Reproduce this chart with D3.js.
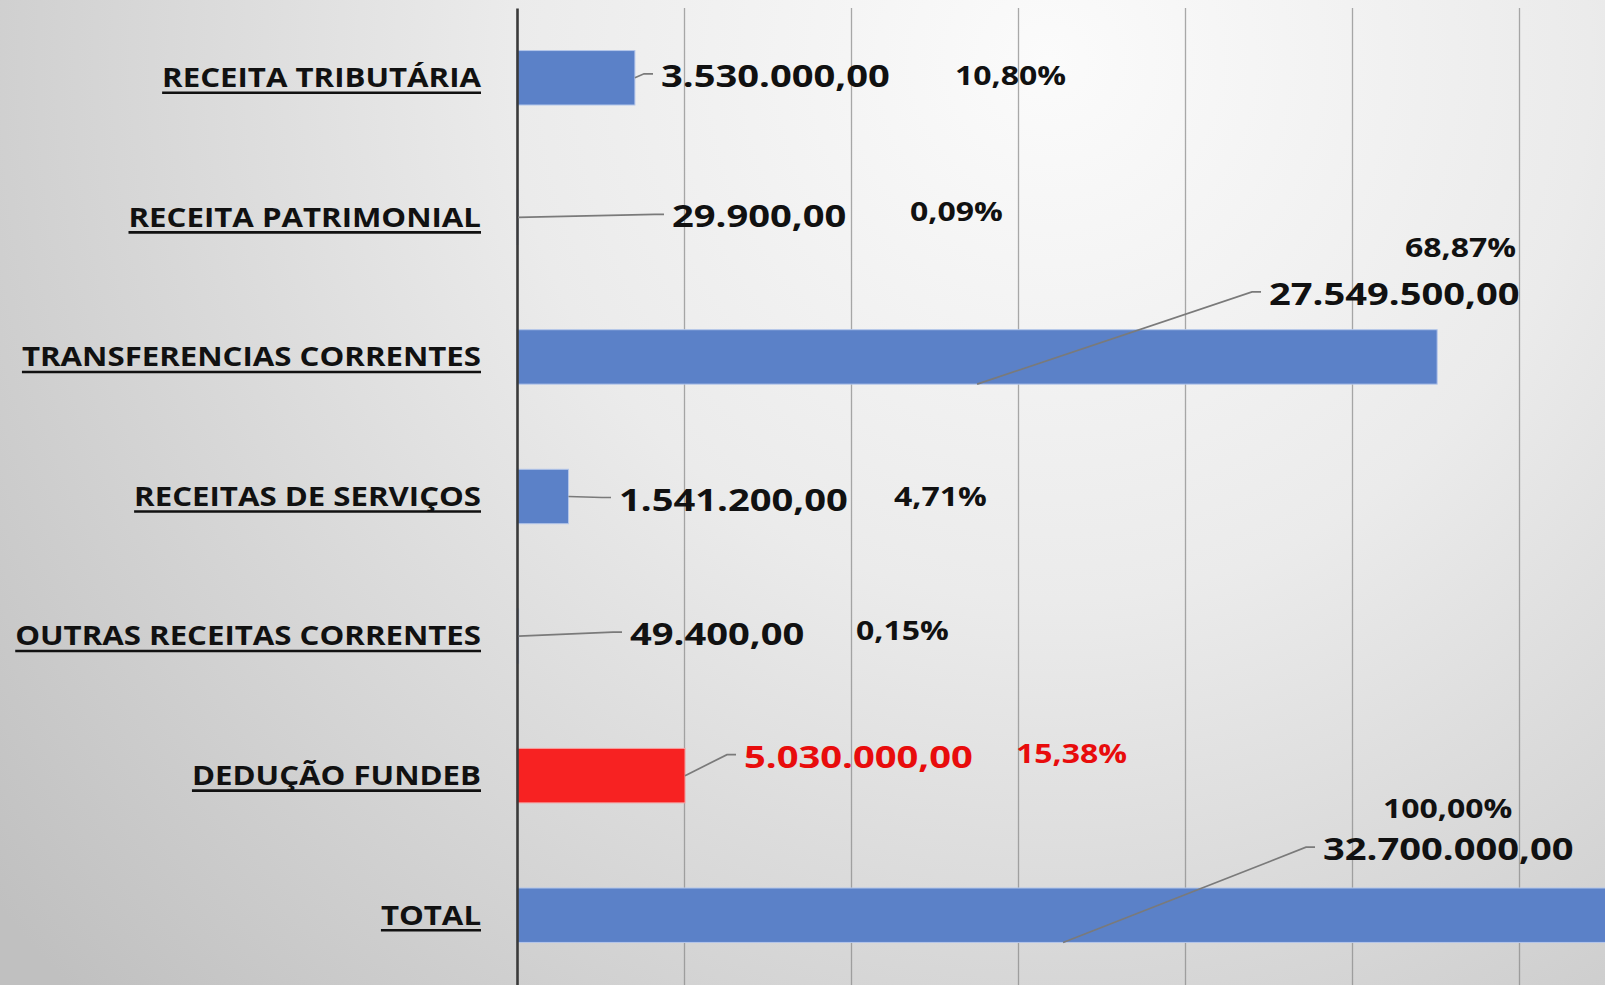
<!DOCTYPE html>
<html>
<head>
<meta charset="utf-8">
<script src="https://cdn.jsdelivr.net/npm/d3@7"></script>
<style>
  body { margin: 0; overflow: hidden; }
  text { font-family: 'Open Sans', 'Noto Sans', sans-serif; font-weight: 700; }
</style>
</head>
<body>
<script>
const categorias = ['RECEITA TRIBUTÁRIA', 'RECEITA PATRIMONIAL', 'TRANSFERENCIAS CORRENTES', 'RECEITAS DE SERVIÇOS', 'OUTRAS RECEITAS CORRENTES', 'DEDUÇÃO FUNDEB', 'TOTAL'];
const valores = [3530000, 29900, 27549500, 1541200, 49400, 5030000, 32700000];
const percentuais = ['10,80%', '0,09%', '68,87%', '4,71%', '0,15%', '15,38%', '100,00%'];
const deducao = [false, false, false, false, false, true, false];
const ticksX = [5000000, 10000000, 15000000, 20000000, 25000000, 30000000, 35000000];

// onde cada rotulo foi arrastado no grafico original (px)
const posRotulos = [
  {vx: 661, vy: 9, px: 955, py: 7, ey: -4, ancora: 'fim'},
  {vx: 672, vy: 10, px: 910, py: 4, ey: -3, ancora: 'fim'},
  {vx: 1269, vy: -52, px: 1405, py: -100, ey: -65, ancora: 'baixo'},
  {vx: 619, vy: 14, px: 894, py: 9, ey: 1, ancora: 'fim'},
  {vx: 630, vy: 9, px: 856, py: 4, ey: -4, ancora: 'fim'},
  {vx: 744, vy: -8, px: 1016, py: -13, ey: -21, ancora: 'fim'},
  {vx: 1323, vy: -55, px: 1383, py: -97, ey: -68, ancora: 'baixo'}
];

const width = 1605;
const height = 985;
const margin = {top: 8, left: 517};
const esticar = 1.23;
const esticarCat = 1.2;

const br = d3.formatLocale({decimal: ',', thousands: '.', grouping: [3], currency: ['', '']});
const formato = br.format(',.2f');

const dados = categorias.map((c, i) => ({
  cat: c,
  valor: valores[i],
  pct: percentuais[i],
  vermelho: deducao[i],
  pos: posRotulos[i]
}));

const svg = d3.select('body')
  .append('svg')
  .attr('width', width)
  .attr('height', height);

const grad = svg.append('defs')
  .append('radialGradient')
  .attr('id', 'fundo')
  .attr('gradientUnits', 'userSpaceOnUse')
  .attr('cx', 1050)
  .attr('cy', 60)
  .attr('r', 1350);

grad.append('stop').attr('offset', 0).attr('stop-color', '#fbfbfb');
grad.append('stop').attr('offset', 0.4).attr('stop-color', '#ebebeb');
grad.append('stop').attr('offset', 1).attr('stop-color', '#c0c0c0');

svg.append('rect')
  .attr('width', width)
  .attr('height', height)
  .attr('fill', 'url(#fundo)');

const escalaX = d3.scaleLinear()
  .domain([0, 35000000])
  .range([margin.left, margin.left + 7 * 167]);

const escalaY = d3.scaleBand()
  .domain(categorias)
  .range([margin.top, height])
  .paddingInner(0.61)
  .paddingOuter(0.305);

const grade = svg.append('g')
  .attr('transform', `translate(0, ${height})`)
  .call(d3.axisBottom(escalaX).tickValues(ticksX).tickSize(-(height - margin.top)).tickFormat(''));

grade.select('.domain').remove();
grade.selectAll('line')
  .attr('stroke', '#868686')
  .attr('stroke-opacity', 0.7)
  .attr('stroke-width', 1.3);

svg.append('g')
  .selectAll('rect')
  .data(dados)
  .join('rect')
  .attr('x', escalaX(0))
  .attr('y', (d) => escalaY(d.cat))
  .attr('width', (d) => escalaX(d.valor) - escalaX(0))
  .attr('height', escalaY.bandwidth())
  .attr('fill', (d) => d.vermelho ? '#f72222' : '#5b81c8')
  .attr('stroke', (d) => d.vermelho ? '#f7a0a0' : '#b4c6ea')
  .attr('stroke-width', 1);

const eixoY = svg.append('g')
  .attr('transform', `translate(${escalaX(0)}, 0)`)
  .call(d3.axisLeft(escalaY).tickSize(0).tickPadding(36));

eixoY.select('.domain')
  .attr('stroke', '#3a3a3a')
  .attr('stroke-width', 2.6);

eixoY.selectAll('text')
  .attr('x', 0)
  .attr('dy', '0.36em')
  .attr('font-size', 26)
  .attr('fill', '#111')
  .attr('transform', `translate(-36, 0) scale(${esticarCat}, 1)`);

eixoY.selectAll('.tick')
  .each(function () {
    const t = d3.select(this).select('text');
    const len = t.node().getComputedTextLength() * esticarCat;
    d3.select(this).append('line')
      .attr('x1', -36 - len)
      .attr('x2', -36)
      .attr('y1', 15)
      .attr('y2', 15)
      .attr('stroke', '#111')
      .attr('stroke-width', 2.6);
  });

const centro = (d) => escalaY(d.cat) + escalaY.bandwidth() / 2;

const guias = svg.append('g');

guias.selectAll('path')
  .data(dados)
  .join('path')
  .attr('fill', 'none')
  .attr('stroke', '#7a7a7a')
  .attr('stroke-width', 1.7)
  .attr('d', (d) => {
    const c = centro(d);
    const ini = d.pos.ancora === 'fim'
      ? [escalaX(d.valor), c]
      : [(escalaX(0) + escalaX(d.valor)) / 2, escalaY(d.cat) + escalaY.bandwidth()];
    return d3.line()([ini, [d.pos.vx - 17, c + d.pos.ey], [d.pos.vx - 8, c + d.pos.ey]]);
  });

const rotulos = svg.append('g');

rotulos.selectAll('text.valor')
  .data(dados)
  .join('text')
  .attr('class', 'valor')
  .attr('transform', (d) => `translate(${d.pos.vx}, ${centro(d) + d.pos.vy}) scale(${esticar}, 1)`)
  .attr('font-size', 31)
  .attr('fill', (d) => d.vermelho ? '#e80c0c' : '#111')
  .text((d) => formato(d.valor));

rotulos.selectAll('text.pct')
  .data(dados)
  .join('text')
  .attr('class', 'pct')
  .attr('transform', (d) => `translate(${d.pos.px}, ${centro(d) + d.pos.py}) scale(${esticar}, 1)`)
  .attr('font-size', 26)
  .attr('fill', (d) => d.vermelho ? '#e80c0c' : '#111')
  .text((d) => d.pct);
</script>
</body>
</html>
